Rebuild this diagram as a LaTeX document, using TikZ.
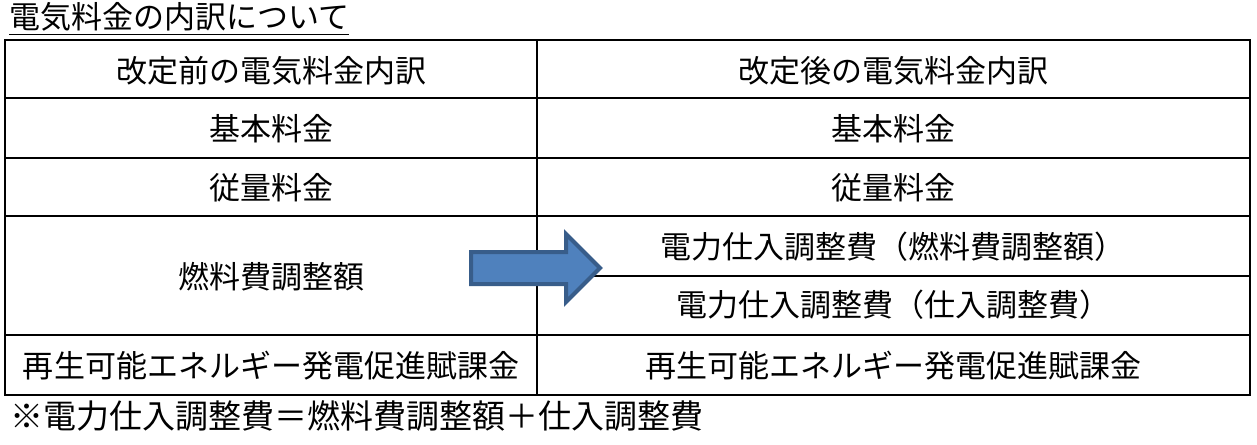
\documentclass[tikz,border=0pt]{standalone}
\usepackage{fontspec}
\setmainfont{Noto Sans CJK JP}
\begin{document}
\begin{tikzpicture}[x=1pt,y=-1pt,
  cell/.style={font=\fontsize{31}{34}\selectfont, anchor=center, inner sep=0pt},
  grid/.style={line width=1.6pt, black}]
\useasboundingbox (0,0) rectangle (1257,444);
% table lines
\draw[grid] (5,40) rectangle (1250,395);
\draw[grid] (537,40) -- (537,395);
\foreach \yy in {98,158,216,335} \draw[grid] (5,\yy) -- (1250,\yy);
\draw[grid] (537,276) -- (1250,276);
% title
\node[font=\fontsize{31}{34}\selectfont, anchor=west, inner sep=0pt] (title) at (9,17) {電気料金の内訳について};
\draw[line width=1.4pt] ([yshift=-3pt]title.south west) -- ([yshift=-3pt]title.south east);
% cells
\node[cell] (l1) at (271,71) {改定前の電気料金内訳};
\node[cell] (r1) at (893,71) {改定後の電気料金内訳};
\node[cell] (l2) at (271,129) {基本料金};
\node[cell] (r2) at (893,129) {基本料金};
\node[cell] (l3) at (271,188) {従量料金};
\node[cell] (r3) at (893,188) {従量料金};
\node[cell] (l4) at (271,277) {燃料費調整額};
\node[cell] (r4) at (893,247) {電力仕入調整費（燃料費調整額）};
\node[cell] (r5) at (893,305) {電力仕入調整費（仕入調整費）};
\node[cell] (l6) at (271,366) {再生可能エネルギー発電促進賦課金};
\node[cell] (r6) at (893,366) {再生可能エネルギー発電促進賦課金};
% arrow
\definecolor{arrfill}{HTML}{4F81BD}
\definecolor{arrline}{HTML}{385D8A}
\draw[fill=arrfill, draw=arrline, line width=4pt, line join=miter]
  (471,252) -- (566,252) -- (566,234) -- (600,268) -- (566,302) -- (566,284) -- (471,284) -- cycle;
% footnote
\node[font=\fontsize{33}{36}\selectfont, anchor=west, inner sep=0pt] (note) at (10,416) {※電力仕入調整費＝燃料費調整額＋仕入調整費};
\end{tikzpicture}
\end{document}
